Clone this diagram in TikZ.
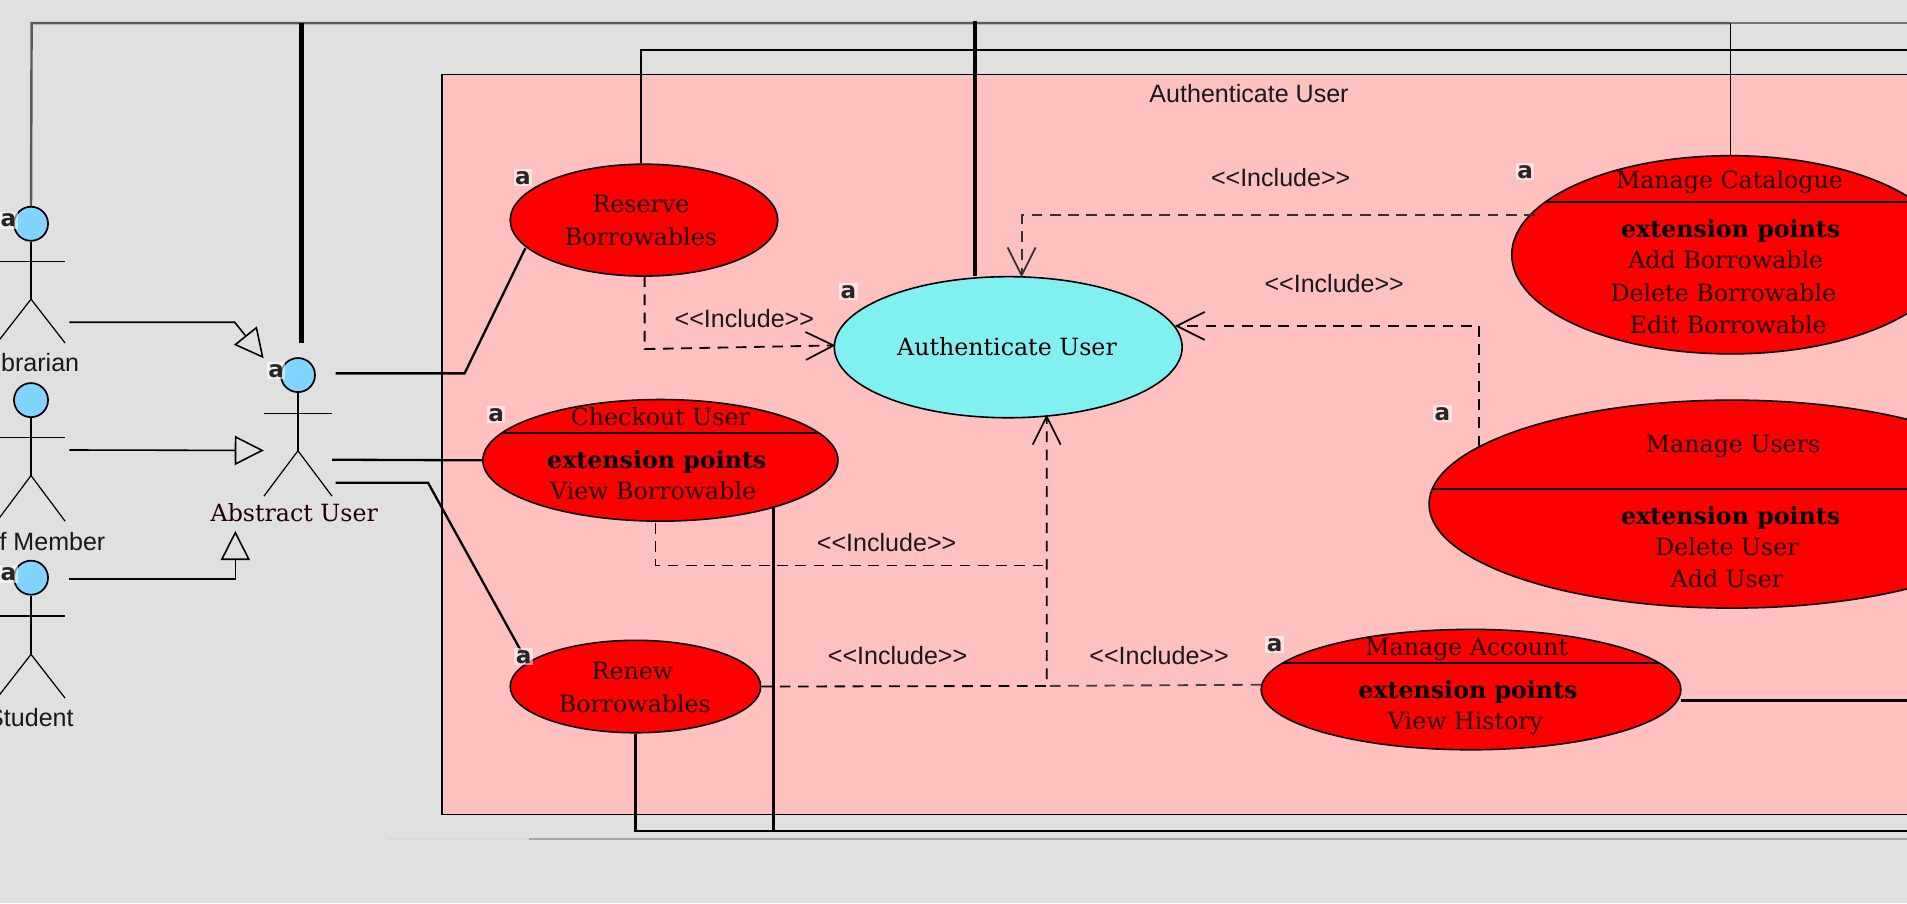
\documentclass[tikz,border=0pt]{standalone}
\usepackage{fontspec}
\setmainfont{DejaVu Serif}
\newfontfamily\labfont{Liberation Sans}
\newfontfamily\markfont{DejaVu Sans}
\usetikzlibrary{arrows.meta,shapes.geometric}
\definecolor{bgc}{HTML}{E0E0E0}
\definecolor{sysc}{HTML}{FFC0C0}
\definecolor{headc}{HTML}{80D4FF}
\definecolor{authc}{HTML}{80F0F0}
\definecolor{redc}{HTML}{FF0000}
\tikzset{
  usecase/.style={ellipse,draw=black,line width=0.65pt,fill=redc,inner sep=0pt},
  ut/.style={font=\fontsize{9.75}{11}\selectfont,inner sep=0pt,text height=7pt,text depth=2pt,yshift=-1pt,text=black!88!red},
  ub/.style={font=\fontsize{9.75}{11}\selectfont\bfseries,inner sep=0pt,text height=7pt,text depth=2pt,yshift=-1pt,text=black},
  lab/.style={font=\labfont\fontsize{10.3}{12}\selectfont,inner sep=0pt,text=black!90},
  mk/.style={font=\markfont\bfseries\fontsize{9.5}{9.5}\selectfont,inner sep=0.6pt,text height=5.6pt,text depth=0.2pt,fill=white,fill opacity=.55,text opacity=1,text=black!85},
  head/.style={circle,draw=black,line width=0.7pt,fill=headc,minimum size=14pt,inner sep=0pt},
  limb/.style={line width=0.5pt},
  wire/.style={line width=0.95pt},
  inc/.style={line width=0.75pt,dash pattern=on 4.4pt off 3.1pt,-{Straight Barb[length=11.5pt,width=11.5pt,line width=0.7pt]}},
  incnotip/.style={line width=0.75pt,dash pattern=on 4.4pt off 3.1pt},
  gen/.style={line width=0.65pt,-{Triangle[open,length=12pt,width=12pt,line width=0.65pt]}},
}
\newcommand\stickman[6]{%
  \node[head] (#1) at (#2,#3) {};
  \coordinate (#1hip) at (#2,#5);
  \draw[limb] (#1.south) -- (#1hip);
  \draw[limb] (#2-28,#4) -- (#2+28,#4);
  \draw[limb] (#2-28,#6) -- (#1hip) -- (#2+28,#6);
}
\begin{document}
\begin{tikzpicture}[x=0.5pt,y=-0.5pt]
\useasboundingbox (0,0) rectangle (1568,742.5);
\clip (0,0) rectangle (1568,742.5);
\fill[bgc] (0,0) rectangle (1568,742.5);
% system
\node[rectangle,draw=black,line width=0.5pt,fill=sysc,anchor=north west,minimum width=650pt,minimum height=304pt,inner sep=0pt] (sys) at (363,61) {};
\node[lab] (systitle) at (1027,77) {Authenticate User};
% faint bottom lines
\coordinate (fa) at (320,690); \coordinate (fb) at (435,690); \coordinate (fc) at (1568,690);
\draw[line width=0.6pt,color=black!15] (fa) -- (fb);
\draw[line width=0.6pt,color=black!35] (fb) -- (fc);
% right-edge coordinates
\coordinate (top) at (1568,19);
\coordinate (top2) at (1568,41);
\coordinate (bot) at (1568,683);
\coordinate (acr) at (1568,576);
% actors
\stickman{lib}{25.5}{184}{215}{246}{282}
\stickman{staff}{25.5}{329}{360}{391}{428.5}
\stickman{stud}{25.5}{475}{506.5}{538}{574}
\stickman{abs}{245}{308.4}{340}{370.6}{408}
\node[lab] (libl) at (25,298) {Librarian};
\node[lab] (staffl) at (25,445) {Staff Member};
\node[lab] (studl) at (25,590) {Student};
\node[ut] (absl) at (242,422) {Abstract User};
% use cases
\node[usecase,minimum width=110pt,minimum height=46pt] (reserve) at (529.5,181) {};
\node[usecase,fill=authc,minimum width=143pt,minimum height=58pt] (auth) at (829,285.5) {};
\node[usecase,minimum width=146pt,minimum height=50pt] (checkout) at (543,378.5) {};
\node[usecase,minimum width=103pt,minimum height=38pt] (renew) at (522.5,564.5) {};
\node[usecase,minimum width=180pt,minimum height=81.5pt] (catalog) at (1423,209.5) {};
\node[usecase,minimum width=249pt,minimum height=85.5pt] (users) at (1424,414.5) {};
\node[usecase,minimum width=172.5pt,minimum height=49.5pt] (account) at (1209.5,567) {};
% dividers
\coordinate (ca) at (412.6,356); \coordinate (cb) at (673.4,356);
\coordinate (da) at (1271,166); \coordinate (db) at (1575,166);
\coordinate (ea) at (1178,402); \coordinate (eb) at (1670,402);
\coordinate (ga) at (1055,545); \coordinate (gb) at (1364,545);
\draw[line width=0.6pt] (ca) -- (cb);
\draw[line width=0.6pt] (da) -- (db);
\draw[line width=0.6pt] (ea) -- (eb);
\draw[line width=0.6pt] (ga) -- (gb);
% texts
\node[ut] (t1) at (527,168) {Reserve};
\node[ut] (t2) at (527,195) {Borrowables};
\node[ut] (t3) at (828,285.5) {Authenticate User};
\node[ut] (t4) at (543,343) {Checkout User};
\node[ub] (t5) at (540,378) {extension points};
\node[ut] (t6) at (537,404) {View Borrowable};
\node[ut] (t7) at (520,552) {Renew};
\node[ut] (t8) at (522,579) {Borrowables};
\node[ut] (t9) at (1422,148) {Manage Catalogue};
\node[ub] (t10) at (1423,188) {extension points};
\node[ut] (t11) at (1419,214) {Add Borrowable};
\node[ut] (t12) at (1417,241) {Delete Borrowable};
\node[ut] (t13) at (1421,267) {Edit Borrowable};
\node[ut] (t14) at (1425,365) {Manage Users};
\node[ub] (t15) at (1423,424) {extension points};
\node[ut] (t16) at (1420,450) {Delete User};
\node[ut] (t17) at (1420,476) {Add User};
\node[ut] (t18) at (1206,532) {Manage Account};
\node[ub] (t19) at (1207,567) {extension points};
\node[ut] (t20) at (1205,593) {View History};
% top wires
\draw[line width=1pt,color=black!65] (lib.north) -- (26,19) -- (1423,19);
\draw[line width=0.5pt,color=black!55] (1423,19) -- (top);
\draw[line width=0.6pt] (catalog.north) -- (1423,19);
\draw[line width=2pt] (248,19) -- (248,282);
\draw[line width=1.7pt] (802,17) -- (auth.north -| 802,0);
\draw[wire] (reserve.north) ++(-2.5,0) -- (527,41) -- (top2);
% abstract user associations
\coordinate (as1) at (276,307); \coordinate (as1b) at (382,307);
\coordinate (as2) at (273,378);
\coordinate (as3) at (276,397); \coordinate (as3b) at (352,397);
\coordinate (res1) at (432,204); \coordinate (ren1) at (431,540);
\draw[wire] (as1) -- (as1b) -- (res1);
\draw[wire] (as2) -- (checkout.west);
\draw[wire] (as3) -- (as3b) -- (ren1);
% bottom wires
\draw[wire] (renew.south) -- (522.5,683) -- (bot);
\coordinate (ck) at (636,416);
\draw[wire] (ck) -- (636,683);
\coordinate (acc1) at (1382,576);
\draw[wire] (acc1) -- (acr);
% generalisations
\coordinate (g1a) at (57,265); \coordinate (g1b) at (193,265); \coordinate (g1c) at (216.8,294.6);
\coordinate (g2a) at (57,370); \coordinate (g2c) at (217,370.4);
\coordinate (g3a) at (57,476); \coordinate (g3b) at (193.5,476); \coordinate (g3c) at (193.5,436.5);
\draw[gen] (g1a) -- (g1b) -- (g1c);
\draw[gen] (g2a) -- (g2c);
\draw[gen] (g3a) -- (g3b) -- (g3c);
% includes
\coordinate (i1a) at (530,227); \coordinate (i1b) at (530,287); \coordinate (i1c) at (687,284);
\draw[inc] (i1a) -- (i1b) -- (i1c);
\coordinate (i2a) at (1262,177); \coordinate (i2b) at (840,177); \coordinate (i2c) at (840,228);
\draw[inc,color=black!80] (i2a) -- (i2b) -- (i2c);
\coordinate (i3a) at (1216,367); \coordinate (i3b) at (1216,268); \coordinate (i3c) at (966,268);
\draw[inc] (i3a) -- (i3b) -- (i3c);
\coordinate (i4a) at (539,430); \coordinate (i4b) at (539,465); \coordinate (i4c) at (860.6,465);
\draw[incnotip] (i4a) -- (i4b) -- (i4c);
\coordinate (i5c) at (860.6,564); \coordinate (i5d) at (860.6,341);
\draw[inc] (renew.east) -- (i5c) -- (i5d);
\coordinate (acw) at (1037,563);
\draw[incnotip,color=black!75] (acw) -- (i5c);
% include labels
\node[lab] (l1) at (612,262) {<<Include>>};
\node[lab] (l2) at (1053,146) {<<Include>>};
\node[lab] (l3) at (1097,233) {<<Include>>};
\node[lab] (l4) at (729,446) {<<Include>>};
\node[lab] (l5) at (738,539) {<<Include>>};
\node[lab] (l6) at (953,539) {<<Include>>};
% marks
\node[mk] (m1) at (7,181) {a};
\node[mk] (m2) at (227,305) {a};
\node[mk] (m3) at (430,146) {a};
\node[mk] (m4) at (697.5,240) {a};
\node[mk] (m5) at (408,341) {a};
\node[mk] (m6) at (430.5,540) {a};
\node[mk] (m7) at (1254,141) {a};
\node[mk] (m8) at (1186,340) {a};
\node[mk] (m9) at (1048,530) {a};
\node[mk] (m10) at (7,472) {a};
\end{tikzpicture}
\end{document}
